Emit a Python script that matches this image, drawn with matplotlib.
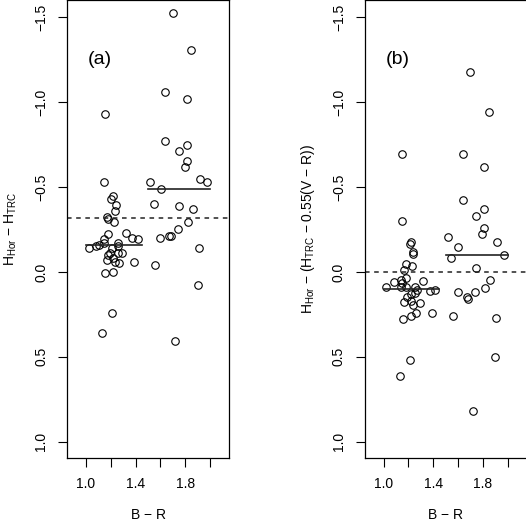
import numpy as np
import matplotlib.pyplot as plt

plt.rcParams['font.family'] = ['Liberation Sans', 'DejaVu Sans']
plt.rcParams['mathtext.fontset'] = 'custom'
plt.rcParams['mathtext.rm'] = 'Liberation Sans'

# panel (a): B-R colour vs H_Hor - H_TRC
br_a = [1.027, 1.078, 1.105, 1.148, 1.148, 1.175, 1.148, 1.215, 1.202, 1.240,
        1.234, 1.167, 1.180, 1.228, 1.320, 1.369, 1.417, 1.260, 1.256, 1.207,
        1.191, 1.180, 1.260, 1.288, 1.220, 1.167, 1.231, 1.264, 1.390, 1.156,
        1.220, 1.207, 1.127, 1.156,
        1.699, 1.849, 1.640, 1.812, 1.637, 1.812, 1.752, 1.812, 1.800, 1.520,
        1.919, 1.973, 1.601, 1.548, 1.752, 1.860, 1.823, 1.739, 1.672, 1.683,
        1.598, 1.909, 1.559, 1.901, 1.720]
dh_a = [-0.141, -0.150, -0.156, -0.169, -0.194, -0.222, -0.529, -0.447, -0.428, -0.396,
        -0.361, -0.325, -0.310, -0.292, -0.228, -0.198, -0.194, -0.169, -0.153, -0.139,
        -0.114, -0.100, -0.114, -0.110, -0.081, -0.071, -0.061, -0.051, -0.061, 0.008,
        0.000, 0.239, 0.357, -0.929,
        -1.528, -1.308, -1.059, -1.019, -0.769, -0.750, -0.711, -0.652, -0.619, -0.529,
        -0.550, -0.531, -0.490, -0.402, -0.390, -0.369, -0.292, -0.251, -0.212, -0.212,
        -0.202, -0.140, -0.041, 0.078, 0.408]

# panel (b): B-R colour vs H_Hor - (H_TRC - 0.55(V-R))
br_b = [1.696, 1.848, 1.636, 1.808, 1.636, 1.807, 1.745, 1.805, 1.796, 1.516,
        1.917, 1.598, 1.546, 1.967, 1.748, 1.855, 1.816, 1.736, 1.669, 1.677,
        1.596, 1.556, 1.907, 1.899, 1.717,
        1.147, 1.144, 1.217, 1.209, 1.233, 1.238, 1.177, 1.227, 1.163, 1.083,
        1.136, 1.177, 1.150, 1.319, 1.022, 1.136, 1.177, 1.251, 1.265, 1.249,
        1.372, 1.417, 1.185, 1.222, 1.163, 1.217, 1.238, 1.291, 1.257, 1.222,
        1.155, 1.391, 1.211, 1.128]
dh_b = [-1.176, -0.941, -0.692, -0.619, -0.424, -0.371, -0.331, -0.260, -0.225, -0.206,
        -0.175, -0.145, -0.084, -0.102, -0.022, 0.048, 0.092, 0.118, 0.145, 0.157,
        0.118, 0.262, 0.272, 0.502, 0.822,
        -0.692, -0.302, -0.178, -0.163, -0.119, -0.104, -0.045, -0.037, -0.012, 0.057,
        0.047, 0.037, 0.066, 0.053, 0.090, 0.090, 0.090, 0.090, 0.106, 0.125,
        0.110, 0.106, 0.145, 0.129, 0.175, 0.169, 0.194, 0.181, 0.239, 0.259,
        0.278, 0.239, 0.518, 0.612]

# colour bins and their medians
bin_lo = [1.0, 1.5]
bin_hi = [1.45, 2.0]
med_a = [-0.159, -0.49]
med_b = [0.10, -0.10]
ref_a = -0.32
ref_b = 0.0

panels = [
    (br_a, dh_a, med_a, ref_a, '(a)',
     r'H$_{\mathregular{Hor}}$ $-$ H$_{\mathregular{TRC}}$', 0.1274),
    (br_b, dh_b, med_b, ref_b, '(b)',
     r'H$_{\mathregular{Hor}}$ $-$ (H$_{\mathregular{TRC}}$ $-$ 0.55(V $-$ R))', 0.6933),
]

fig = plt.figure(figsize=(5.26, 5.23), dpi=100)
for br, dh, med, ref, tag, ylab, left in panels:
    ax = fig.add_axes([left, 0.1243, 0.308, 0.8757])
    ax.plot(br, dh, 'o', mfc='none', mec='black', ms=5.4, mew=0.8, ls='none')
    for lo, hi, m in zip(bin_lo, bin_hi, med):
        ax.plot([lo, hi], [m, m], color='#222222', lw=1.2)
    ax.axhline(ref, color='#222222', lw=1.1, ls=(0, (3, 3)))
    ax.set_xlim(0.847, 2.153)
    ax.set_ylim(1.096, -1.602)
    ax.set_xticks([1.0, 1.2, 1.4, 1.6, 1.8, 2.0])
    ax.set_xticklabels(['1.0', '', '1.4', '', '1.8', ''])
    ax.set_yticks([-1.5, -1.0, -0.5, 0.0, 0.5, 1.0])
    ax.set_yticklabels(['\u22121.5', '\u22121.0', '\u22120.5', '0.0', '0.5', '1.0'],
                       rotation=90, va='center')
    ax.tick_params(direction='out', length=6.5, width=0.8, labelsize=10, pad=7)
    for s in ax.spines.values():
        s.set_linewidth(0.9)
    ax.set_xlabel('B $-$ R', fontsize=10, labelpad=12.5)
    ax.set_ylabel(ylab, fontsize=10, labelpad=11)
    ax.text(1.112, -1.25, tag, fontsize=14, ha='center', va='center')

fig.savefig('out.png', dpi=100)
